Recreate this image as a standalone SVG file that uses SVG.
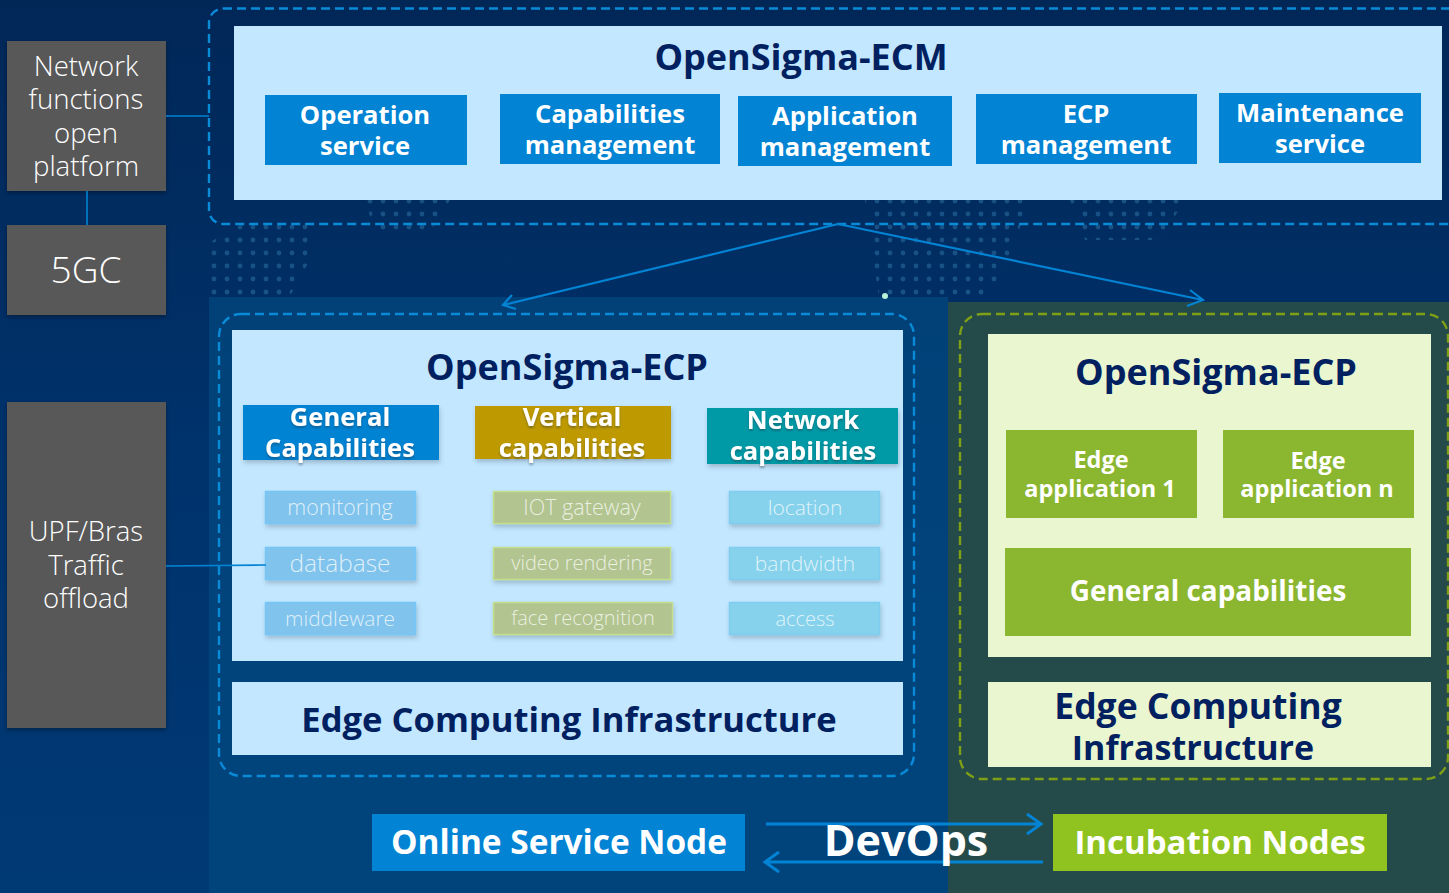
<svg xmlns="http://www.w3.org/2000/svg" width="1449" height="893" viewBox="0 0 1449 893">
<style>
text{font-family:"Open Sans","Noto Sans","Liberation Sans",sans-serif;text-anchor:middle}
.b{font-weight:700;fill:#fff;font-size:25.600px}
.t{font-weight:700;fill:#002060;font-size:36px}
.l{font-weight:300;fill:#fff}
.s{font-weight:300;fill:#fff;font-size:21px;fill-opacity:.75}
.g{fill:#595959;filter:url(#sh)}
.w{fill:#0283d3}
.gr{fill:#8bb62f}
.pale{fill:#e9f6cf}
.sky{fill:#c2e7ff}
.c1{fill:#80c3ec;stroke:#74c5f8;stroke-width:1.5;filter:url(#sh2)}
.c2{fill:#b2c48f;stroke:#c3df8c;stroke-width:1.5;filter:url(#sh2)}
.c3{fill:#86d2ec;stroke:#7ecdf0;stroke-width:1.5;filter:url(#sh2)}
.dash{fill:none;stroke:#0a8bd8;stroke-width:2.4;stroke-dasharray:9 5}
.line{fill:none;stroke:#0283d3;stroke-width:1.6}
.arrow{fill:none;stroke:#0283d3;stroke-width:3}
</style>
<defs>
<linearGradient id="bg" x1="0" y1="0" x2="0" y2="1"><stop offset="0" stop-color="#012757"/><stop offset=".5" stop-color="#00326b"/><stop offset="1" stop-color="#003a75"/></linearGradient>
<pattern id="dots" width="13" height="13" patternUnits="userSpaceOnUse"><circle cx="6" cy="6" r="2.400" fill="#4fa6d8" fill-opacity=".5"/></pattern>
<filter id="sh" x="-10%" y="-10%" width="120%" height="120%"><feDropShadow dx="0" dy="2" stdDeviation="2" flood-color="#000" flood-opacity=".35"/></filter>
<filter id="sh2" x="-10%" y="-20%" width="120%" height="150%"><feDropShadow dx="1" dy="3" stdDeviation="2" flood-color="#456" flood-opacity=".3"/></filter>
<filter id="ts" x="-10%" y="-10%" width="120%" height="130%"><feDropShadow dx="0" dy="2" stdDeviation="1.2" flood-color="#234" flood-opacity=".4"/></filter>
</defs>
<g id="background">
<rect width="1449" height="893" fill="url(#bg)"/>
<rect x="209" y="297" width="739" height="596" fill="#01487f" fill-opacity=".75"/>
<rect x="948" y="302" width="501" height="591" fill="#244b49"/>
<path d="M205 296V245L240 225H310V260L290 296ZM365 200H450L430 232H375ZM865 200H1030L1010 255L985 302H880L870 240ZM1070 200H1185L1160 240H1085Z" fill="url(#dots)" opacity=".6"/>
<circle cx="885" cy="296" r="3" fill="#b8f0d8"/>
</g>
<g id="ecm-frame"><rect class="dash" x="209" y="8.500" width="1260" height="215.500" rx="14"/></g>
<g id="ecp-frame-left"><rect class="dash" x="219" y="314" width="695" height="462" rx="22"/></g>
<g id="ecp-frame-right"><rect class="dash" x="960" y="314" width="488" height="465" rx="22" style="stroke:#7f9f17"/></g>
<g id="nf-platform"><rect class="g" x="7" y="41" width="159" height="150"/>
<text class="l" font-size="27.600" x="86" y="76">Network</text><text class="l" font-size="27.600" x="86" y="109">functions</text><text class="l" font-size="27.600" x="86" y="143">open</text><text class="l" font-size="27.600" x="86" y="176">platform</text></g>
<g id="5gc"><rect class="g" x="7" y="225" width="159" height="90"/><text class="l" font-size="37" x="86" y="283">5GC</text></g>
<g id="upf"><rect class="g" x="7" y="402" width="159" height="326"/>
<text class="l" font-size="27.500" x="86" y="541">UPF/Bras</text><text class="l" font-size="27.500" x="86" y="575">Traffic</text><text class="l" font-size="27.500" x="86" y="608">offload</text></g>
<g id="ecm"><rect class="sky" x="234" y="26" width="1208" height="174"/><text class="t" x="801" y="70">OpenSigma-ECM</text></g>
<g id="op"><rect class="w" x="265" y="95" width="202" height="70"/><text class="b" x="365" y="124">Operation</text><text class="b" x="365" y="155">service</text></g>
<g id="cap"><rect class="w" x="500" y="94" width="220" height="70"/><text class="b" x="610" y="123">Capabilities</text><text class="b" x="610" y="154">management</text></g>
<g id="app"><rect class="w" x="738" y="96" width="214" height="70"/><text class="b" x="845" y="125">Application</text><text class="b" x="845" y="156">management</text></g>
<g id="ecpm"><rect class="w" x="976" y="94" width="221" height="70"/><text class="b" x="1086" y="123">ECP</text><text class="b" x="1086" y="154">management</text></g>
<g id="maint"><rect class="w" x="1219" y="93" width="202" height="70"/><text class="b" x="1320" y="122">Maintenance</text><text class="b" x="1320" y="153">service</text></g>
<g id="ecp-left"><rect class="sky" x="232" y="330" width="671" height="331"/><text class="t" x="567" y="380">OpenSigma-ECP</text></g>
<g id="general"><rect class="w" x="243" y="405" width="196" height="55" filter="url(#sh2)"/><text class="b" filter="url(#ts)" x="340" y="426">General</text><text class="b" filter="url(#ts)" x="340" y="457">Capabilities</text></g>
<g id="vertical"><rect x="475" y="406" width="196" height="53" fill="#be9a00" filter="url(#sh2)"/><text class="b" filter="url(#ts)" x="572" y="426">Vertical</text><text class="b" filter="url(#ts)" x="572" y="457">capabilities</text></g>
<g id="network"><rect x="707" y="408" width="191" height="56" fill="#009aa6" filter="url(#sh2)"/><text class="b" filter="url(#ts)" x="803" y="429">Network</text><text class="b" filter="url(#ts)" x="803" y="460">capabilities</text></g>
<g id="monitoring"><rect class="c1" x="265.500" y="491.500" width="150" height="32"/><text class="s" style="font-size:21.400px" x="340" y="515">monitoring</text></g>
<g id="database"><rect class="c1" x="265.500" y="547.500" width="150" height="32"/><text class="s" x="340" y="572" style="font-size:24.500px">database</text></g>
<g id="middleware"><rect class="c1" x="265.500" y="602.500" width="150" height="32"/><text class="s" style="font-size:20.900px" x="340" y="626">middleware</text></g>
<g id="iot"><rect class="c2" x="493.500" y="491.500" width="177" height="32"/><text class="s" style="font-size:21.600px" x="582" y="515">IOT gateway</text></g>
<g id="video"><rect class="c2" x="493.500" y="547.500" width="177" height="32"/><text class="s" style="font-size:20px" x="582" y="570">video rendering</text></g>
<g id="face"><rect class="c2" x="493.500" y="602.500" width="179" height="32"/><text class="s" style="font-size:20px" x="583" y="625">face recognition</text></g>
<g id="location"><rect class="c3" x="729.500" y="491.500" width="150" height="32"/><text class="s" x="805" y="515">location</text></g>
<g id="bandwidth"><rect class="c3" x="729.500" y="547.500" width="150" height="32"/><text class="s" x="805" y="571">bandwidth</text></g>
<g id="access"><rect class="c3" x="729.500" y="602.500" width="150" height="32"/><text class="s" style="font-size:20px" x="805" y="626">access</text></g>
<g id="infra-left"><rect class="sky" x="232" y="682" width="671" height="73"/><text class="t" style="font-size:34.600px" x="569" y="732">Edge Computing Infrastructure</text></g>
<g id="ecp-right"><rect class="pale" x="988" y="334" width="443" height="323"/><text class="t" x="1216" y="385">OpenSigma-ECP</text></g>
<g id="app1"><rect class="gr" x="1006" y="430" width="191" height="88"/><text class="b" style="font-size:23.500px" x="1101" y="468">Edge</text><text class="b" style="font-size:23.500px" x="1100" y="497">application 1</text></g>
<g id="appn"><rect class="gr" x="1223" y="430" width="191" height="88"/><text class="b" style="font-size:23.500px" x="1318" y="469">Edge</text><text class="b" style="font-size:23.500px" x="1317" y="497">application n</text></g>
<g id="gencap"><rect class="gr" x="1005" y="548" width="406" height="88"/><text class="b" style="font-size:27.900px" x="1208" y="601">General capabilities</text></g>
<g id="infra-right"><rect class="pale" x="988" y="682" width="443" height="85"/><text class="t" style="font-size:35.500px" x="1198" y="719">Edge Computing</text><text class="t" style="font-size:34px" x="1193" y="760">Infrastructure</text></g>
<g id="online"><rect class="w" x="372" y="814" width="373" height="57"/><text class="b" style="font-size:33.400px" x="559" y="854">Online Service Node</text></g>
<g id="incub"><rect x="1053" y="814" width="334" height="57" fill="#90c31f"/><text class="b" style="font-size:33px" x="1220" y="854">Incubation Nodes</text></g>
<g id="connectors">
<path class="line" d="M166 116H209M87 191V225M166 566L266 565"/>
<path class="arrow" style="stroke-width:2.200" d="M838 224L503 305M512 295L503 305L516 309"/>
<path class="arrow" style="stroke-width:2.200" d="M838 224L1203 300M1190 290L1203 300L1187 306"/>
<path class="arrow" d="M766 824H1041M1027 814L1041 824L1027 834"/>
<path class="arrow" d="M1043 862H765M779 852L765 862L779 872"/>
</g>
<g id="devops"><text class="b" style="font-size:43px" x="906" y="856">DevOps</text></g>
</svg>
